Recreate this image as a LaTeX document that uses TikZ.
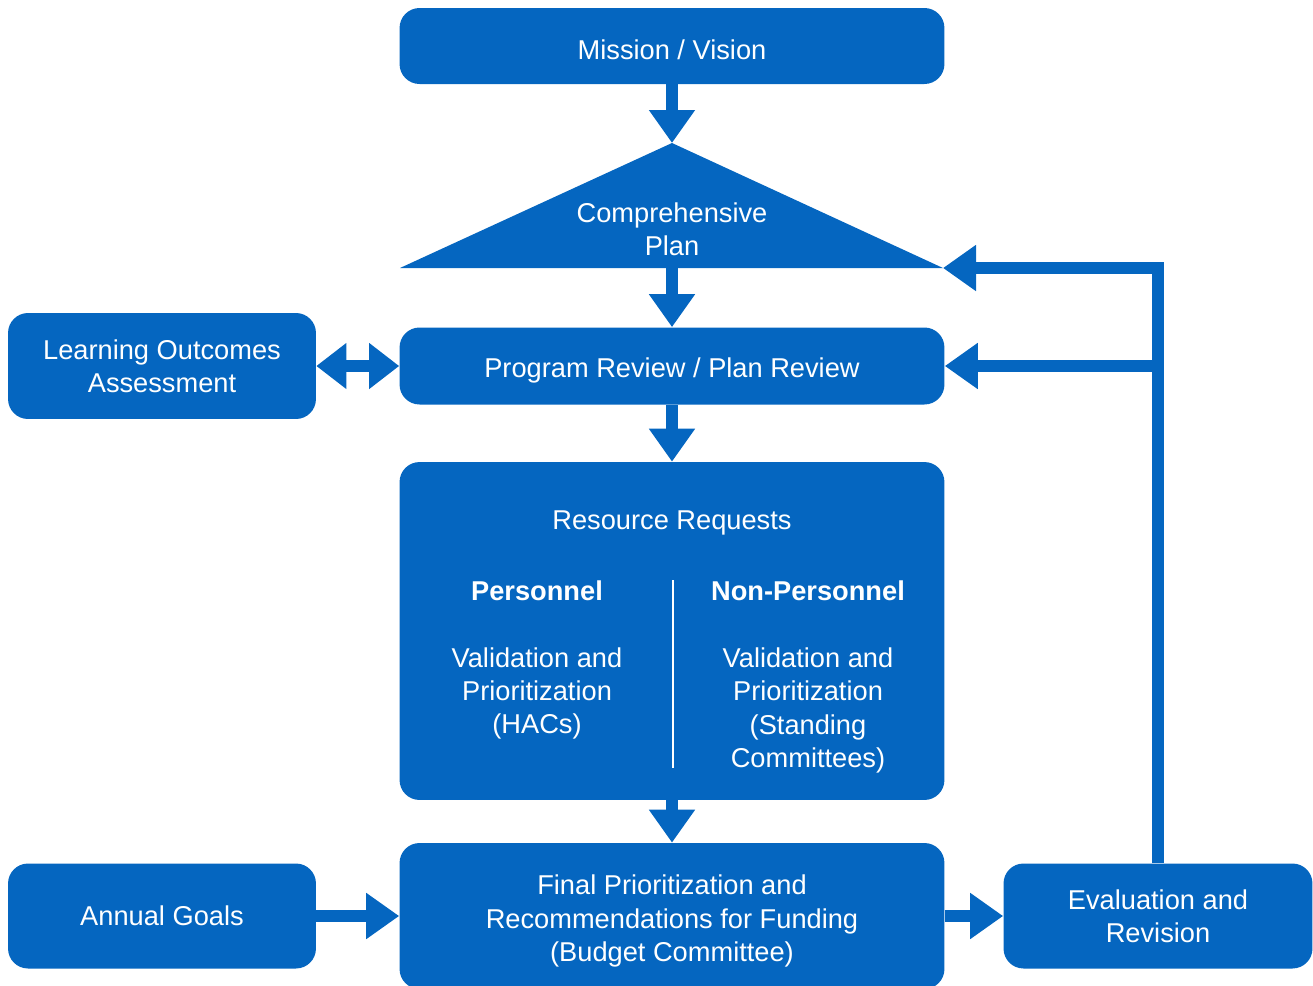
\documentclass[tikz,border=0pt]{standalone}
\usepackage{fontspec}
\setmainfont{Liberation Sans}
\usepackage{tikz}
\usetikzlibrary{arrows.meta, positioning, calc}
\definecolor{planblue}{RGB}{5,102,192}

\begin{document}
\begin{tikzpicture}[
    x=0.02cm, y=-0.02cm,
    stage/.style={rectangle, fill=planblue, rounded corners=0.4cm, inner sep=0pt,
                  text=white, align=center, font=\fontsize{15.5}{19}\selectfont},
    caption/.style={text=white, align=center, inner sep=0pt, font=\fontsize{15.5}{19}\selectfont},
    flow/.style={draw=planblue, line width=0.24cm, line join=miter,
                 -{Triangle[width=0.88cm, length=0.66cm]}},
    twoway/.style={flow, {Triangle[width=0.88cm, length=0.6cm]}-{Triangle[width=0.88cm, length=0.6cm]}}
]
    \useasboundingbox (0,0) rectangle (1313,985);

    % Top
    \node[stage, text height=16pt, minimum width=10.9cm, minimum height=1.52cm] (mission) at (672,46) {Mission / Vision};
    \coordinate (apex) at (672,143);
    \coordinate (planleft) at (400,268);
    \coordinate (planright) at (943,268);
    \coordinate (planbase) at (672,268);
    \fill[planblue] (apex) -- (planright) -- (planleft) -- cycle;
    \node[caption] (plan) at (672,229) {Comprehensive\\Plan};

    % Middle
    \node[stage, text height=16pt, minimum width=10.9cm, minimum height=1.54cm] (review) at (672,366) {Program Review / Plan Review};
    \node[stage, minimum width=6.16cm, minimum height=2.12cm] (loa) at (162,366) {Learning Outcomes\\Assessment};
    \node[stage, minimum width=10.9cm, minimum height=6.76cm] (resource) at (672,631) {};
    \node[caption] (restitle) at (672,523) {Resource Requests};
    \node[caption] (personnel) at (537,660) {\textbf{Personnel}\\[19pt]Validation and\\Prioritization\\(HACs)};
    \node[caption] (nonpersonnel) at (808,677) {\textbf{Non-Personnel}\\[19pt]Validation and\\Prioritization\\(Standing\\Committees)};
    \draw[white, line width=0.7pt] (673,580) -- (673,768);

    % Bottom
    \node[stage, minimum width=10.9cm, minimum height=2.92cm] (final) at (672,916) {};
    \node[caption] (finaltext) at (672,921) {Final Prioritization and\\Recommendations for Funding\\(Budget Committee)};
    \node[stage, minimum width=6.16cm, minimum height=2.1cm] (goals) at (162,916) {Annual Goals};
    \node[stage, minimum width=6.18cm, minimum height=2.1cm] (eval) at (1158,916) {Evaluation and\\Revision};

    % Arrows
    \draw[flow] (mission.south) -- (apex);
    \draw[flow] (planbase) -- (review.north);
    \draw[twoway] (loa.east) -- (review.west);
    \draw[flow] (review.south) -- (resource.north);
    \draw[flow] (resource.south) -- (final.north);
    \draw[flow] (goals.east) -- (goals.east -| final.west);
    \draw[flow] (eval.west -| final.east) -- (eval.west);
    \draw[flow] (eval.north) |- (planright);
    \draw[flow] (eval.north |- review.east) -- (review.east);
\end{tikzpicture}
\end{document}
